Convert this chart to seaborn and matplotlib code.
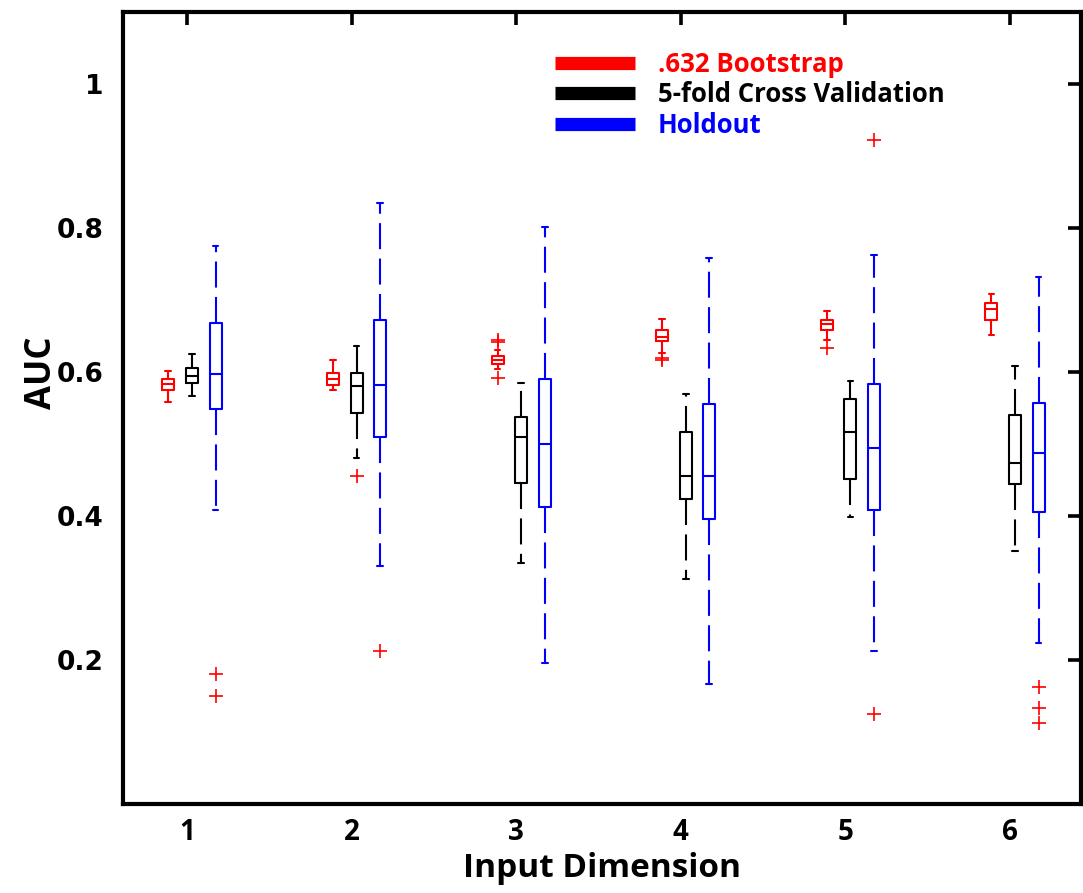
import numpy as np
import pandas as pd
import matplotlib
matplotlib.use("Agg")
import matplotlib.pyplot as plt
from matplotlib.lines import Line2D
import seaborn as sns

# ---------------- data ----------------
dims = [1, 2, 3, 4, 5, 6]
methods = [".632 Bootstrap", "5-fold Cross Validation", "Holdout"]
colors = ["#ff0000", "#000000", "#0000ff"]

# .632 Bootstrap
boot_wlo = [0.558, 0.575, 0.604, 0.626, 0.645, 0.652]
boot_q1 = [0.575, 0.582, 0.611, 0.643, 0.658, 0.672]
boot_med = [0.583, 0.590, 0.616, 0.649, 0.666, 0.688]
boot_q3 = [0.590, 0.598, 0.622, 0.658, 0.672, 0.696]
boot_whi = [0.602, 0.617, 0.630, 0.674, 0.685, 0.708]
boot_out_lo = [[], [], [0.592], [0.619, 0.616], [0.634], []]
boot_out_hi = [[], [], [0.641, 0.645], [], [], []]

# 5-fold Cross Validation
cv_wlo = [0.567, 0.480, 0.335, 0.312, 0.399, 0.352]
cv_q1 = [0.585, 0.543, 0.446, 0.424, 0.451, 0.445]
cv_med = [0.595, 0.580, 0.510, 0.455, 0.517, 0.474]
cv_q3 = [0.605, 0.598, 0.537, 0.517, 0.562, 0.540]
cv_whi = [0.625, 0.636, 0.585, 0.570, 0.588, 0.609]
cv_out_lo = [[], [0.455], [], [], [], []]
cv_out_hi = [[], [], [], [], [], []]

# Holdout
ho_wlo = [0.409, 0.331, 0.196, 0.167, 0.213, 0.224]
ho_q1 = [0.548, 0.510, 0.413, 0.396, 0.409, 0.405]
ho_med = [0.597, 0.582, 0.500, 0.455, 0.494, 0.488]
ho_q3 = [0.668, 0.672, 0.590, 0.556, 0.584, 0.557]
ho_whi = [0.775, 0.835, 0.801, 0.758, 0.763, 0.732]
ho_out_lo = [[0.180, 0.150], [0.213], [], [], [0.125], [0.163, 0.134, 0.112]]
ho_out_hi = [[], [], [], [], [0.922], []]

y_ticks = [0.2, 0.4, 0.6, 0.8, 1.0]
y_ticklabels = ["0.2", "0.4", "0.6", "0.8", "1"]


def box_sample(wlo, q1, med, q3, whi, out_lo, out_hi, m=4):
    """Sample whose quartiles / whisker ends equal the read values."""
    vals = list(out_lo) + [wlo] * (m - len(out_lo))
    vals += [q1] * m
    vals += [med]
    vals += [q3] * m
    vals += [whi] * (m - len(out_hi)) + list(out_hi)
    return vals


series = {
    methods[0]: (boot_wlo, boot_q1, boot_med, boot_q3, boot_whi, boot_out_lo, boot_out_hi),
    methods[1]: (cv_wlo, cv_q1, cv_med, cv_q3, cv_whi, cv_out_lo, cv_out_hi),
    methods[2]: (ho_wlo, ho_q1, ho_med, ho_q3, ho_whi, ho_out_lo, ho_out_hi),
}

rows = []
for meth, (wl, a, md, b, wh, ol, oh) in series.items():
    for i, d in enumerate(dims):
        for v in box_sample(wl[i], a[i], md[i], b[i], wh[i], ol[i], oh[i]):
            rows.append({"dim": d, "method": meth, "auc": v})
df = pd.DataFrame(rows)

# ---------------- plot ----------------
sns.set_style("white")
plt.rcParams.update({
    "text.color": "black", "axes.labelcolor": "black",
    "xtick.color": "black", "ytick.color": "black",
    "axes.edgecolor": "black",
})
fig = plt.figure(figsize=(10.83, 8.93), dpi=100)
ax = fig.add_axes([123 / 1083, 1 - 804 / 893, (1081 - 123) / 1083, (804 - 12) / 893])

sns.boxplot(
    data=df, x="dim", y="auc", hue="method", hue_order=methods,
    palette=colors, fill=False, width=0.43, gap=0.49, whis=1.5,
    linewidth=1.5, legend=False, ax=ax,
    whiskerprops=dict(linestyle=(0, (12.5, 4.5))),
    flierprops=dict(marker="+", markersize=9.5, markeredgewidth=1.2),
    capwidths=0.035,
)

for ln in ax.lines:
    if ln.get_marker() == "+":
        ln.set_markeredgecolor("#ff0000")
        ln.set_color("#ff0000")

ax.set_ylim(0, 1.1)
ax.set_xlim(-0.419, 5.401)
ax.set_yticks(y_ticks)
ax.set_yticklabels(y_ticklabels, fontsize=19, fontweight="bold", family="DejaVu Sans")
ax.set_xticks(np.arange(len(dims)) - 0.03)
ax.set_xticklabels([str(d) for d in dims], fontsize=20, fontweight="bold", family="Open Sans")
ax.tick_params(axis="both", direction="in", length=9.5, width=2.6,
               top=True, right=True, pad=10, colors="black")
ax.tick_params(axis="y", pad=14)
for sp in ax.spines.values():
    sp.set_linewidth(3)
    sp.set_color("black")

ax.set_xlabel("Input Dimension", fontsize=24, fontweight="bold", family="Open Sans",
              labelpad=4, color="black")
ax.set_ylabel("AUC", fontsize=25, fontweight="bold", family="Open Sans", color="black")
ax.yaxis.set_label_coords(-0.066, 0.545)

handles = [Line2D([], [], color=c, lw=9.5, solid_capstyle="butt") for c in colors]
leg = ax.legend(handles, methods, loc="upper left",
                bbox_to_anchor=(555 / 1083, 1 - 51 / 893), bbox_transform=fig.transFigure,
                frameon=False, prop=dict(family="Open Sans", weight="bold", size=18.5),
                handlelength=3.1, handletextpad=0.9, labelspacing=0.13, borderpad=0,
                borderaxespad=0)
for t, c in zip(leg.get_texts(), colors):
    t.set_color(c)

fig.savefig("out.png", dpi=100)
